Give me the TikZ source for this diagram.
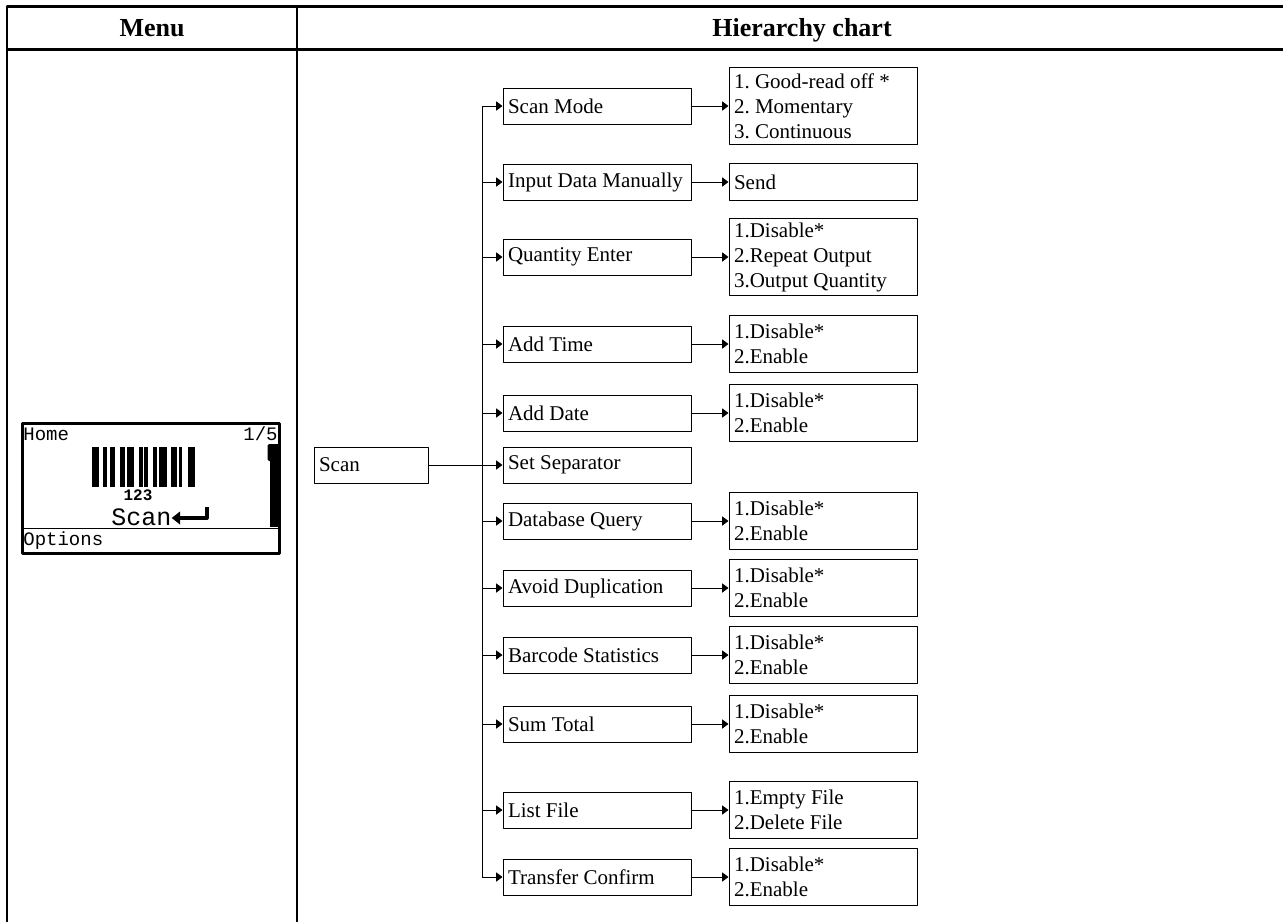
\documentclass[tikz,border=0pt]{standalone}
\usepackage{fontspec}
\setmainfont{Liberation Serif}
\newfontfamily\lcdfont{Liberation Mono}
\usetikzlibrary{arrows.meta}
\frenchspacing

\tikzset{
  border/.style={line width=1.3pt},
  line/.style={line width=0.5pt},
  arr/.style={line width=0.5pt, -{Triangle[length=3.2pt,width=4.6pt]}},
  head/.style={font=\fontsize{13}{15}\selectfont\bfseries, anchor=base},
  itembox/.style={draw, line width=0.5pt, minimum height=18pt, text width=89pt,
    inner xsep=2.5pt, inner ysep=1pt, align=flush left, font=\fontsize{10.5}{12.5}\selectfont},
  optbox/.style={itembox, minimum height=#1},
  lcd/.style={font=\lcdfont\fontsize{9.5}{10}\selectfont, inner sep=0pt}
}

\begin{document}
\begin{tikzpicture}[x=0.5pt, y=-0.5pt, line join=round]
  \useasboundingbox (0,0) rectangle (1283,922);

  % table
  \draw[border] (7,922) -- (7,6.5) -- (1283,6.5);
  \draw[border] (7,49.5) -- (1283,49.5);
  \draw[border] (297,6.5) -- (297,922);
  \node[head] (menuhd) at (152,36) {Menu};
  \node[head] (charthd) at (802,36) {Hierarchy chart};

  % screen
  \draw[line width=1.5pt] (22,423) rectangle (279,553);
  \draw[line width=0.8pt] (22,528.5) -- (279,528.5);
  \node[lcd, anchor=base west] (home) at (23,440) {Home};
  \node[lcd, anchor=base east] (page) at (278,440) {1/5};
  \node[lcd, anchor=base west] (opts) at (23,545) {Options};
  \foreach \a/\b in {91.7/99.3, 102.7/107.3, 110/115, 120/125, 126.7/134, 139.3/142.7,
      144/148.3, 153.3/156.7, 159.3/166.7, 170.7/176.7, 179.3/181.7, 188.3/195}
    \fill (\a,447) rectangle (\b,487);
  \node[lcd, font=\lcdfont\bfseries\fontsize{8}{9}\selectfont, anchor=base] (code) at (138,500) {123};
  \node[lcd, font=\lcdfont\fontsize{12.5}{13}\selectfont, anchor=base west] (scanlbl) at (111,525) {Scan};
  \draw[line width=2pt] (206.7,507) -- (206.7,518) -- (179,518);
  \fill (171.7,518) -- (180,511.5) -- (180,524.5) -- cycle;
  \fill (270,452) rectangle (277.5,527);
  \fill[rounded corners=0.8pt] (267.5,444) rectangle (279.5,461);

  % chart
  \node[itembox, text width=52pt] (scan) at (371,465) {Scan};
  \coordinate (trunk) at (482,0);

  \foreach \nm/\txt/\yy in {mode/Scan Mode/106, input/Input Data Manually/182,
      qty/Quantity Enter/257, time/Add Time/344, date/Add Date/413,
      sep/Set Separator/465, dbq/Database Query/521, dup/Avoid Duplication/588,
      stat/Barcode Statistics/655, sum/Sum Total/724, list/List File/810,
      confirm/Transfer Confirm/877}
    \node[itembox] (\nm) at (597,\yy) {\txt};

  \node[optbox=38.5pt] (omode) at (823,106) {1. Good-read off *\\2. Momentary\\3. Continuous};
  \node[optbox=18.5pt] (oinput) at (823,182) {Send};
  \node[optbox=38.5pt] (oqty) at (823,257) {1.Disable*\\2.Repeat Output\\3.Output Quantity};
  \node[optbox=28.5pt] (otime) at (823,344) {1.Disable*\\2.Enable};
  \node[optbox=28.5pt] (odate) at (823,413) {1.Disable*\\2.Enable};
  \node[optbox=28.5pt] (odbq) at (823,521) {1.Disable*\\2.Enable};
  \node[optbox=28.5pt] (odup) at (823,588) {1.Disable*\\2.Enable};
  \node[optbox=28.5pt] (ostat) at (823,655) {1.Disable*\\2.Enable};
  \node[optbox=28.5pt] (osum) at (823,724) {1.Disable*\\2.Enable};
  \node[optbox=28.5pt] (olist) at (823,810) {1.Empty File\\2.Delete File};
  \node[optbox=28.5pt] (oconfirm) at (823,877) {1.Disable*\\2.Enable};

  % connectors
  \draw[line] (trunk |- mode.west) -- (trunk |- confirm.west);
  \draw[arr] (scan.east) -- (sep.west);
  \foreach \nm in {mode,input,qty,time,date,dbq,dup,stat,sum,list,confirm}
    \draw[arr] (trunk |- \nm.west) -- (\nm.west);
  \foreach \nm in {mode,input,qty,time,date,dbq,dup,stat,sum,list,confirm}
    \draw[arr] (\nm.east) -- (o\nm.west);
\end{tikzpicture}
\end{document}
